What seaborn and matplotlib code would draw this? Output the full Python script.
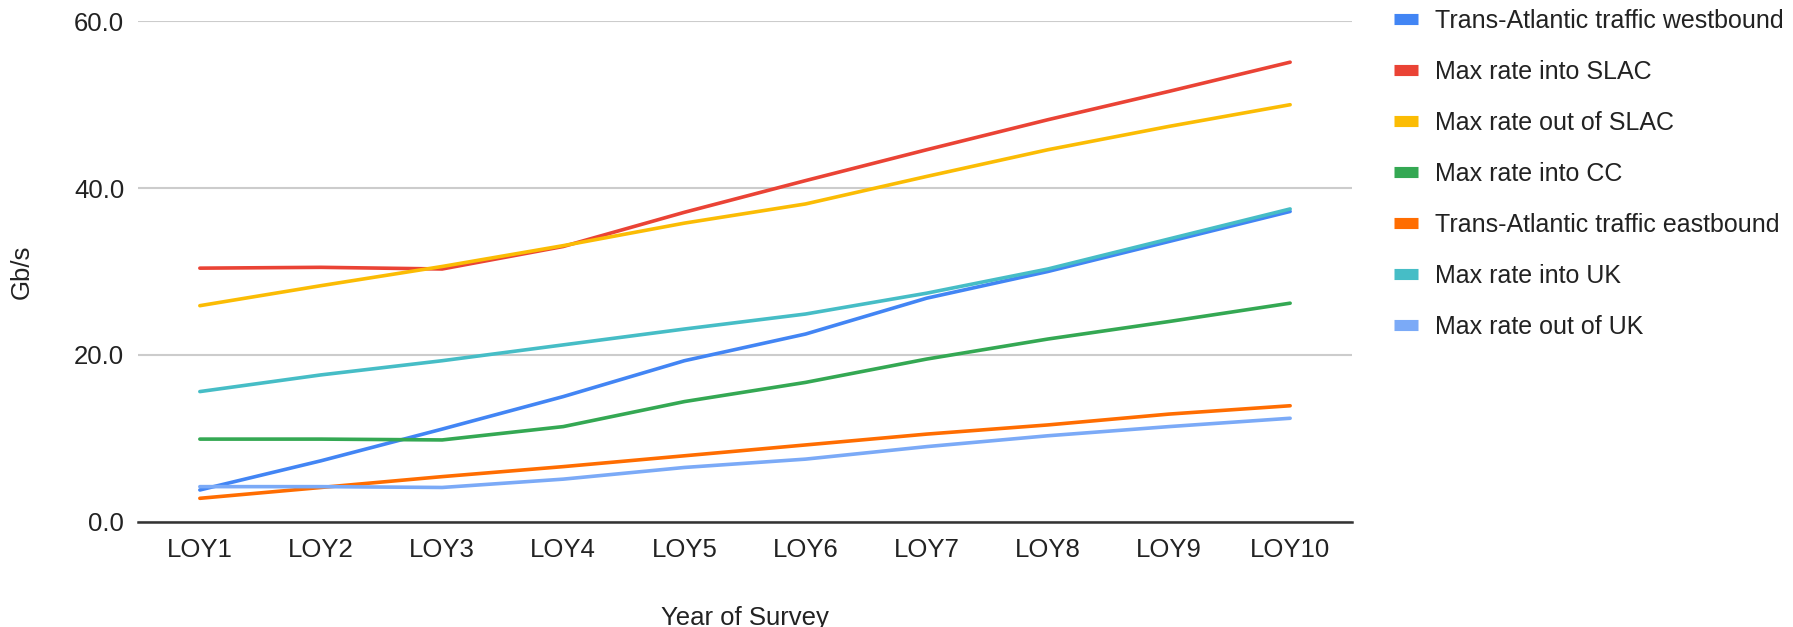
import pandas as pd
import matplotlib.pyplot as plt
import seaborn as sns

# %% data
years = ["LOY1", "LOY2", "LOY3", "LOY4", "LOY5", "LOY6", "LOY7", "LOY8", "LOY9", "LOY10"]

westbound = [3.8, 7.3, 11.1, 15.0, 19.3, 22.5, 26.8, 30.0, 33.6, 37.2]
into_slac = [30.4, 30.5, 30.3, 33.0, 37.1, 40.9, 44.6, 48.2, 51.6, 55.1]
out_slac = [25.9, 28.3, 30.6, 33.1, 35.8, 38.1, 41.4, 44.6, 47.4, 50.0]
into_cc = [9.9, 9.9, 9.8, 11.4, 14.4, 16.7, 19.5, 21.9, 24.0, 26.2]
eastbound = [2.8, 4.1, 5.4, 6.6, 7.9, 9.2, 10.5, 11.6, 12.9, 13.9]
into_uk = [15.6, 17.6, 19.3, 21.2, 23.1, 24.9, 27.4, 30.3, 33.9, 37.5]
out_uk = [4.2, 4.2, 4.1, 5.1, 6.5, 7.5, 9.0, 10.3, 11.4, 12.4]

series = {
    "Trans-Atlantic traffic westbound": westbound,
    "Max rate into SLAC": into_slac,
    "Max rate out of SLAC": out_slac,
    "Max rate into CC": into_cc,
    "Trans-Atlantic traffic eastbound": eastbound,
    "Max rate into UK": into_uk,
    "Max rate out of UK": out_uk,
}
renkler = ["#4285F4", "#EA4335", "#FBBC04", "#34A853", "#FF6D01", "#46BDC6", "#7BAAF7"]

rows = []
for ad, degerler in series.items():
    for i, (yil, d) in enumerate(zip(years, degerler)):
        rows.append({"pos": i, "yil": yil, "seri": ad, "deger": d})
veri = pd.DataFrame(rows)

# %% plot
sns.set_style("white")
plt.rcParams["font.family"] = ["Liberation Sans", "DejaVu Sans"]

fig = plt.figure(figsize=(17.93, 6.27), dpi=100)
ax = fig.add_axes([0.077, 0.168, 0.677, 0.798])

sns.lineplot(data=veri, x="pos", y="deger", hue="seri", hue_order=list(series.keys()),
             palette=renkler, linewidth=2.6, ax=ax, legend=True)

ax.set_xlim(-0.51, 9.51)
ax.set_ylim(0, 60)
ax.set_xticks(range(len(years)))
ax.set_xticklabels(years)
ax.set_yticks([0, 20, 40, 60])
ax.set_yticklabels(["0.0", "20.0", "40.0", "60.0"])
ax.tick_params(axis="both", length=0, labelsize=18.5, colors="#222222")
ax.tick_params(axis="x", pad=12)
ax.tick_params(axis="y", pad=10)

ax.grid(axis="y", color="#cccccc", linewidth=1.5)
ax.set_axisbelow(True)
for s in ["top", "left", "right"]:
    ax.spines[s].set_visible(False)
ax.spines["bottom"].set_color("#333333")
ax.spines["bottom"].set_linewidth(1.8)
ax.spines["bottom"].set_zorder(5)

ax.set_xlabel("Year of Survey", fontsize=18.5, color="#222222")
ax.set_ylabel("Gb/s", fontsize=18.5, color="#222222")
ax.xaxis.set_label_coords(0.5, -0.168)
ax.yaxis.set_label_coords(-0.086, 0.5)

handles, labels = ax.get_legend_handles_labels()
ax.get_legend().remove()
for h in handles:
    h.set_linewidth(8)
    h.set_solid_capstyle("butt")
fig.legend(handles, labels, loc="upper left", bbox_to_anchor=(0.7775, 0.986),
           frameon=False, fontsize=18, handlelength=0.96, handletextpad=0.68,
           labelspacing=1.08, borderpad=0, borderaxespad=0, labelcolor="#222222")

fig.savefig("out.png", dpi=100)
